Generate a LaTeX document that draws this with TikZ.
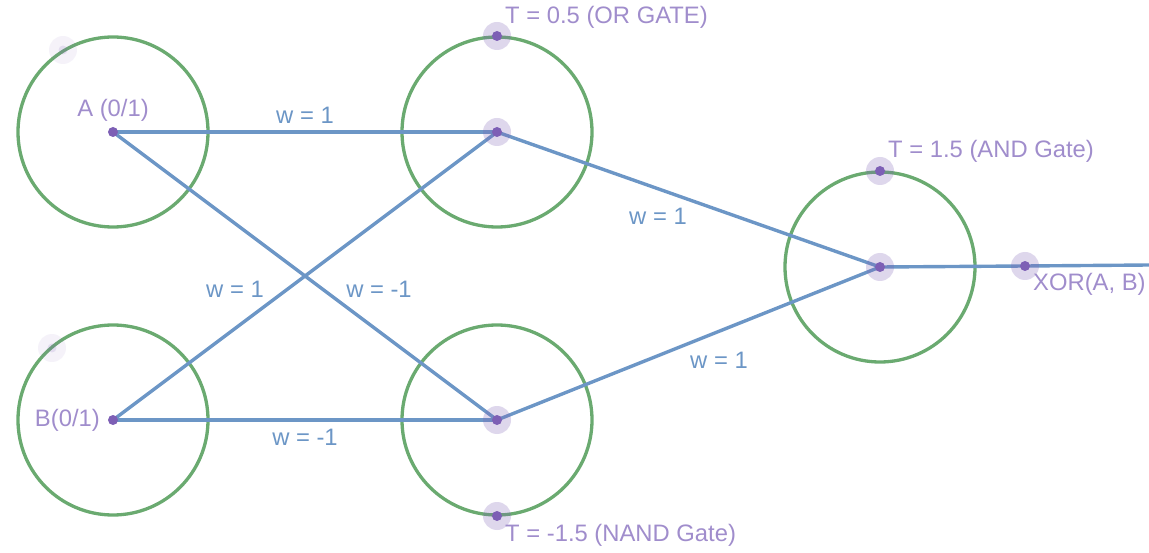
\documentclass[tikz,border=0pt]{standalone}
\usepackage{fontspec}
\setmainfont{Liberation Sans}
\definecolor{ngreen}{HTML}{6AAA70}
\definecolor{lblue}{HTML}{6C96C6}
\definecolor{tblue}{HTML}{6C96C6}
\definecolor{dpurple}{HTML}{7D5FB5}
\definecolor{tpurple}{HTML}{A08DCC}
\tikzset{
  neuron/.style={circle,draw=ngreen,line width=3.3pt,minimum size=190pt,inner sep=0pt},
  wire/.style={draw=lblue,line width=3.4pt},
  dot/.style={circle,fill=dpurple,minimum size=10pt,inner sep=0pt},
  halo/.style={circle,fill=dpurple,fill opacity=0.25,minimum size=28pt,inner sep=0pt},
  faint/.style={circle,fill=dpurple,fill opacity=0.08,minimum size=28pt,inner sep=0pt},
  faintdot/.style={circle,fill=dpurple,fill opacity=0.15,minimum size=9pt,inner sep=0pt},
  plabel/.style={text=tpurple,font=\fontsize{23.8}{26}\selectfont,inner sep=0pt},
  wlabel/.style={text=tblue,font=\fontsize{23.8}{26}\selectfont,inner sep=0pt}
}
\begin{document}
\begin{tikzpicture}[x=1pt,y=-1pt]
\useasboundingbox (0,0) rectangle (1149,553);
% neurons
\node[neuron] (NA) at (113,132) {};
\node[neuron] (NB) at (113,420) {};
\node[neuron] (NOR) at (497,132) {};
\node[neuron] (NNAND) at (497,420) {};
\node[neuron] (NAND) at (880,267) {};
% points
\coordinate (a) at (113,132);
\coordinate (b) at (113,420);
\coordinate (or) at (497,132);
\coordinate (ortop) at (497,36);
\coordinate (nand) at (497,420);
\coordinate (nandbot) at (497,516);
\coordinate (and) at (880,267);
\coordinate (andtop) at (880,171);
\coordinate (xor) at (1025,266);
\coordinate (out) at (1149,265);
\coordinate (fa) at (63,50);
\coordinate (fb) at (52,348);
% wires
\draw[wire] (a) -- (or);
\draw[wire] (a) -- (nand);
\draw[wire] (b) -- (or);
\draw[wire] (b) -- (nand);
\draw[wire] (or) -- (and);
\draw[wire] (nand) -- (and);
\draw[wire] (and) -- (xor) -- (out);
% halos and dots
\foreach \p in {or,ortop,nand,nandbot,and,andtop,xor}{
  \node[halo] at (\p) {};
  \node[dot] at (\p) {};
}
\node[dot] at (a) {};
\node[dot] at (b) {};
\node[faint] at (fa) {};
\node[faintdot] at (fa) {};
\node[faint] at (fb) {};
\node[faintdot] at (fb) {};
% labels
\node[plabel] (la) at (113,110) {A (0/1)};
\node[plabel,anchor=east] (lb) at (100,420) {B(0/1)};
\node[plabel,anchor=west] (lor) at (505,17) {T = 0.5 (OR GATE)};
\node[plabel,anchor=west] (lnand) at (505,535) {T = -1.5 (NAND Gate)};
\node[plabel,anchor=west] (land) at (888,151) {T = 1.5 (AND Gate)};
\node[plabel,anchor=west] (lxor) at (1033,284) {XOR(A, B)};
\node[wlabel] (w1) at (305,115) {w = 1};
\node[wlabel] (w2) at (235,289) {w = 1};
\node[wlabel] (w3) at (379,289) {w = -1};
\node[wlabel] (w4) at (305,437) {w = -1};
\node[wlabel] (w5) at (658,216) {w = 1};
\node[wlabel] (w6) at (719,360) {w = 1};
\end{tikzpicture}
\end{document}
